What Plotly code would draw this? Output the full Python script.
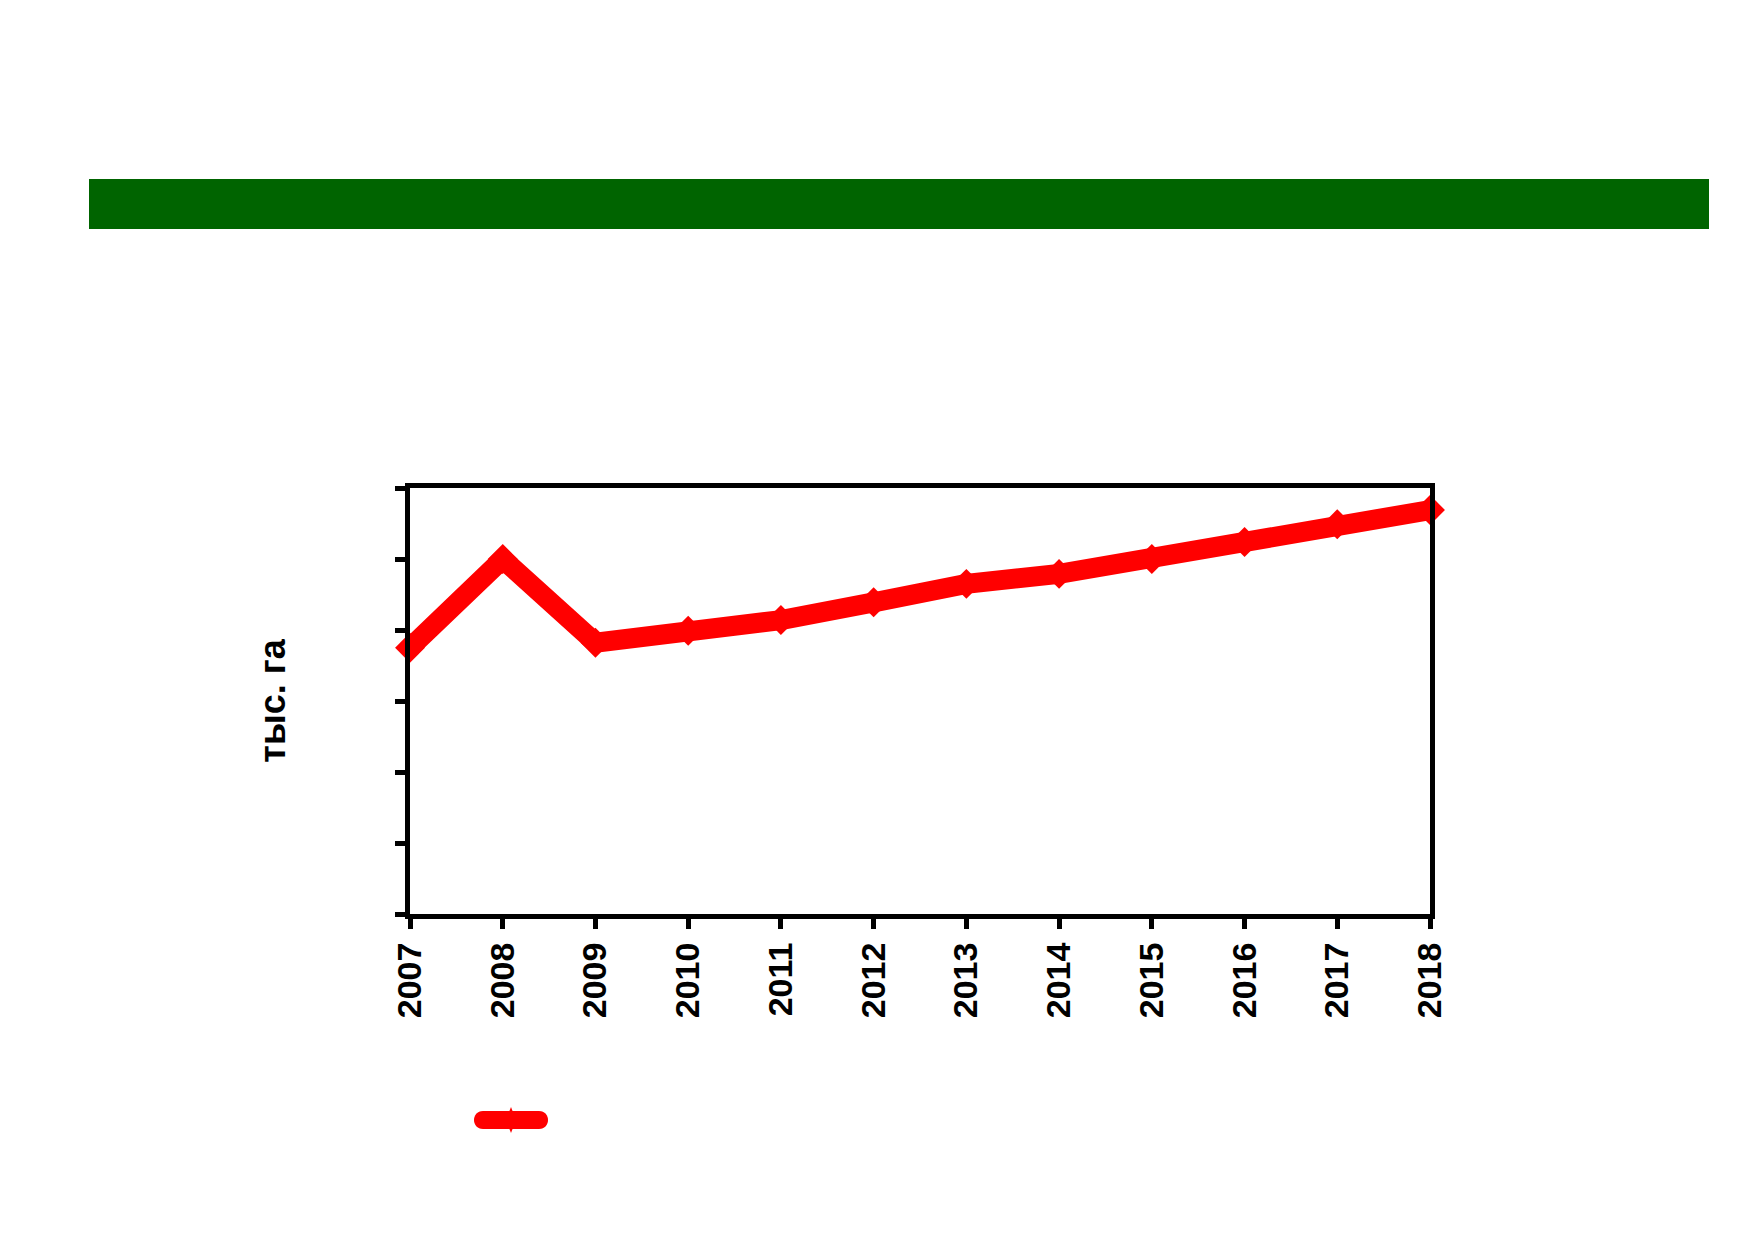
import plotly.graph_objects as go

years = [2007, 2008, 2009, 2010, 2011, 2012, 2013, 2014, 2015, 2016, 2017, 2018]
values = [37.5, 50.0, 38.2, 39.9, 41.4, 43.9, 46.5, 47.9, 50.0, 52.4, 54.9, 56.9]
y_title = "тыс. га"
series_name = " "

W, H = 1754, 1239
L, R, T, B = 402, 1422, 480, 906
pw, ph = R - L, B - T

def px_to_paper_x(px):
    return (px - L) / pw

def px_to_paper_y(py):
    return (B - py) / ph

RED = "#ff0000"
fig = go.Figure()
fig.add_trace(go.Scatter(
    x=years, y=values, mode="lines+markers", name=series_name,
    line=dict(color=RED, width=20),
    marker=dict(symbol="diamond", size=23, color=RED),
    cliponaxis=False, showlegend=False,
))

font_family = "Liberation Sans, Arial, sans-serif"

# legend key (pill with small diamond), drawn in pixel units around an anchor
pill = "M -28,-9 L 28,-9 C 40,-9 40,9 28,9 L -28,9 C -40,9 -40,-9 -28,-9 Z"
diamond = "M 0,-13 L 5,0 L 0,13 L -5,0 Z"
key_x, key_y = px_to_paper_x(503), px_to_paper_y(1112)

fig.update_layout(
    width=W, height=H,
    margin=dict(l=L, r=W - R, t=T, b=H - B),
    paper_bgcolor="white", plot_bgcolor="white",
    showlegend=False,
    shapes=[
        dict(type="rect", xref="paper", yref="paper",
             x0=px_to_paper_x(81), x1=px_to_paper_x(1701),
             y0=px_to_paper_y(221), y1=px_to_paper_y(171),
             fillcolor="#006400", line=dict(width=0), layer="below"),
        dict(type="path", xref="paper", yref="paper",
             xsizemode="pixel", ysizemode="pixel",
             xanchor=key_x, yanchor=key_y,
             path=pill, fillcolor=RED, line=dict(width=0)),
        dict(type="path", xref="paper", yref="paper",
             xsizemode="pixel", ysizemode="pixel",
             xanchor=key_x, yanchor=key_y,
             path=diamond, fillcolor=RED, line=dict(width=0)),
    ],
)

fig.update_xaxes(
    range=[2007, 2018], tickmode="array", tickvals=years, ticktext=[str(y) for y in years],
    tickangle=-90, ticks="outside", ticklen=10, tickwidth=5, tickcolor="black",
    showline=True, linewidth=5, linecolor="black", mirror=True,
    showgrid=False, zeroline=False,
    tickfont=dict(family=font_family, size=34, color="black", weight="bold"),
)
fig.update_yaxes(
    range=[0, 60], dtick=10, showticklabels=False,
    ticks="outside", ticklen=10, tickwidth=5, tickcolor="black",
    showline=True, linewidth=5, linecolor="black", mirror=True,
    showgrid=False, zeroline=False,
    title=dict(text=y_title, standoff=100,
               font=dict(family=font_family, size=36, color="black", weight="bold")),
)

fig.write_html("out.html")
